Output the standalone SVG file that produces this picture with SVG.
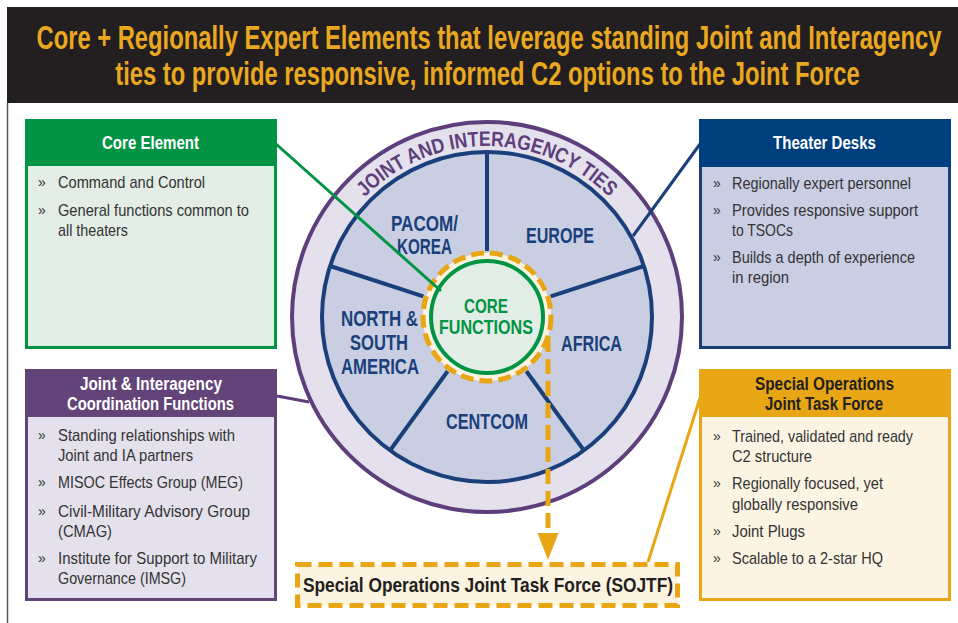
<svg xmlns="http://www.w3.org/2000/svg" width="958" height="623" viewBox="0 0 958 623">
<style>
text{font-family:"Liberation Sans",Arial,sans-serif}
.title{font-size:33px;font-weight:bold;fill:#e9a81f}
.hw{font-size:18px;font-weight:bold;fill:#ffffff}
.hd{font-size:18px;font-weight:bold;fill:#231f20}
.body{font-size:17px;fill:#333333}
.bul{font-size:14px;fill:#333333}
.reg{font-size:21.5px;font-weight:bold;fill:#1a3f7a}
.core{font-size:19.5px;font-weight:bold;fill:#009444}
.arc{font-size:21px;font-weight:bold;fill:#5e3f7c}
.spoke{stroke:#1a3f7a;stroke-width:4;fill:none}
.conn{stroke-width:3;fill:none}
</style>
<defs>
<path id="arcPath" d="M 316 317 A 171 171 0 0 1 658 317"/>
</defs>

<g id="header">
<rect x="7" y="7" width="951" height="96" fill="#231f20"/>
<g transform="translate(489,0) scale(0.72,1)">
<text class="title" x="0" y="49" text-anchor="middle">Core + Regionally Expert Elements that leverage standing Joint and Interagency</text>
</g>
<g transform="translate(487.5,0) scale(0.72,1)">
<text class="title" x="0" y="85" text-anchor="middle">ties to provide responsive, informed C2 options to the Joint Force</text>
</g>
</g>
<line x1="7.5" y1="103" x2="7.5" y2="623" stroke="#555555" stroke-width="1.5"/>

<g id="wheel">
<circle cx="487" cy="317" r="195" fill="#e4e1ec" stroke="#5e3f7c" stroke-width="4"/>
<circle cx="487" cy="317" r="165" fill="#c9cee3" stroke="#1a3f7a" stroke-width="4"/>
<text class="arc"><textPath href="#arcPath" startOffset="50%" text-anchor="middle" textLength="272" lengthAdjust="spacingAndGlyphs">JOINT AND INTERAGENCY TIES</textPath></text>
<line class="spoke" x1="487" y1="251" x2="487" y2="153"/>
<line class="spoke" x1="550.7" y1="296.3" x2="643.9" y2="266"/>
<line class="spoke" x1="526.4" y1="371.2" x2="584" y2="450.5"/>
<line class="spoke" x1="447.6" y1="371.2" x2="390" y2="450.5"/>
<line class="spoke" x1="423.3" y1="296.3" x2="330.1" y2="266"/>
<text class="reg" x="424.5" y="231" text-anchor="middle" textLength="67" lengthAdjust="spacingAndGlyphs">PACOM/</text>
<text class="reg" x="424.5" y="254" text-anchor="middle" textLength="55" lengthAdjust="spacingAndGlyphs">KOREA</text>
<text class="reg" x="560" y="243" text-anchor="middle" textLength="68" lengthAdjust="spacingAndGlyphs">EUROPE</text>
<text class="reg" x="379.5" y="326" text-anchor="middle" textLength="77" lengthAdjust="spacingAndGlyphs">NORTH &amp;</text>
<text class="reg" x="379" y="350" text-anchor="middle" textLength="58" lengthAdjust="spacingAndGlyphs">SOUTH</text>
<text class="reg" x="380" y="374" text-anchor="middle" textLength="78" lengthAdjust="spacingAndGlyphs">AMERICA</text>
<text class="reg" x="591.5" y="351" text-anchor="middle" textLength="61" lengthAdjust="spacingAndGlyphs">AFRICA</text>
<text class="reg" x="487" y="429" text-anchor="middle" textLength="82" lengthAdjust="spacingAndGlyphs">CENTCOM</text>
</g>

<g id="core-functions">
<circle cx="487" cy="317" r="64" fill="#fcf3e1" stroke="#e8a514" stroke-width="5" stroke-dasharray="13 6"/>
<circle cx="487" cy="317" r="56" fill="#e2ede5" stroke="#009444" stroke-width="4"/>
<text class="core" x="486" y="313" text-anchor="middle" textLength="44" lengthAdjust="spacingAndGlyphs">CORE</text>
<text class="core" x="486" y="334" text-anchor="middle" textLength="94" lengthAdjust="spacingAndGlyphs">FUNCTIONS</text>
</g>

<g id="connectors">
<line class="conn" x1="276" y1="144" x2="441" y2="291" stroke="#009444"/>
<line class="conn" x1="700" y1="144" x2="633" y2="236" stroke="#1a3f7a"/>
<line class="conn" x1="277" y1="396" x2="309" y2="402" stroke="#5e3f7c"/>
<line class="conn" x1="700" y1="398" x2="648" y2="562" stroke="#e8a514"/>
<line x1="548" y1="337" x2="548" y2="536" stroke="#e8a514" stroke-width="5" stroke-dasharray="15 7"/>
<polygon points="537.5,533 558.5,533 548,560" fill="#e8a514"/>
</g>

<g id="core-element">
<rect x="26.5" y="120.5" width="249" height="227" fill="#e2ede5" stroke="#009444" stroke-width="3"/>
<rect x="25" y="119" width="252" height="47" fill="#009444"/>
<text class="hw" x="150.5" y="149" text-anchor="middle" textLength="97" lengthAdjust="spacingAndGlyphs">Core Element</text>
<text class="bul" x="38" y="187">»</text>
<text class="body" x="58" y="188" textLength="147" lengthAdjust="spacingAndGlyphs">Command and Control</text>
<text class="bul" x="38" y="215">»</text>
<text class="body" x="58" y="216" textLength="191" lengthAdjust="spacingAndGlyphs">General functions common to</text>
<text class="body" x="58" y="236" textLength="70" lengthAdjust="spacingAndGlyphs">all theaters</text>
</g>

<g id="theater-desks">
<rect x="700.5" y="120.5" width="249" height="227" fill="#c9cee3" stroke="#1a3f7a" stroke-width="3"/>
<rect x="699" y="119" width="252" height="48" fill="#003f7d"/>
<text class="hw" x="824.5" y="149" text-anchor="middle" textLength="103" lengthAdjust="spacingAndGlyphs">Theater Desks</text>
<text class="bul" x="713" y="188">»</text>
<text class="body" x="732" y="189" textLength="179" lengthAdjust="spacingAndGlyphs">Regionally expert personnel</text>
<text class="bul" x="713" y="215">»</text>
<text class="body" x="732" y="216" textLength="186" lengthAdjust="spacingAndGlyphs">Provides responsive support</text>
<text class="body" x="732" y="236" textLength="61" lengthAdjust="spacingAndGlyphs">to TSOCs</text>
<text class="bul" x="713" y="262">»</text>
<text class="body" x="732" y="263" textLength="183" lengthAdjust="spacingAndGlyphs">Builds a depth of experience</text>
<text class="body" x="732" y="283" textLength="57" lengthAdjust="spacingAndGlyphs">in region</text>
</g>

<g id="joint-interagency">
<rect x="26.5" y="370.5" width="249" height="229" fill="#e4e1ec" stroke="#634478" stroke-width="3"/>
<rect x="25" y="369" width="252" height="48" fill="#634478"/>
<text class="hw" x="151" y="390" text-anchor="middle" textLength="142" lengthAdjust="spacingAndGlyphs">Joint &amp; Interagency</text>
<text class="hw" x="150.5" y="410" text-anchor="middle" textLength="167" lengthAdjust="spacingAndGlyphs">Coordination Functions</text>
<text class="bul" x="38" y="440">»</text>
<text class="body" x="58" y="441" textLength="177" lengthAdjust="spacingAndGlyphs">Standing relationships with</text>
<text class="body" x="58" y="461" textLength="135" lengthAdjust="spacingAndGlyphs">Joint and IA partners</text>
<text class="bul" x="38" y="487">»</text>
<text class="body" x="58" y="488" textLength="185" lengthAdjust="spacingAndGlyphs">MISOC Effects Group (MEG)</text>
<text class="bul" x="38" y="516">»</text>
<text class="body" x="58" y="517" textLength="192" lengthAdjust="spacingAndGlyphs">Civil-Military Advisory Group</text>
<text class="body" x="58" y="537" textLength="54" lengthAdjust="spacingAndGlyphs">(CMAG)</text>
<text class="bul" x="38" y="563">»</text>
<text class="body" x="58" y="564" textLength="199" lengthAdjust="spacingAndGlyphs">Institute for Support to Military</text>
<text class="body" x="58" y="584" textLength="128" lengthAdjust="spacingAndGlyphs">Governance (IMSG)</text>
</g>

<g id="sojtf-box">
<rect x="700.5" y="370.5" width="249" height="229" fill="#fcf4e3" stroke="#e8a514" stroke-width="3"/>
<rect x="699" y="369" width="252" height="48" fill="#e8a514"/>
<text class="hd" x="824.5" y="390" text-anchor="middle" textLength="139" lengthAdjust="spacingAndGlyphs">Special Operations</text>
<text class="hd" x="824" y="410" text-anchor="middle" textLength="118" lengthAdjust="spacingAndGlyphs">Joint Task Force</text>
<text class="bul" x="713" y="441">»</text>
<text class="body" x="732" y="442" textLength="181" lengthAdjust="spacingAndGlyphs">Trained, validated and ready</text>
<text class="body" x="732" y="462" textLength="80" lengthAdjust="spacingAndGlyphs">C2 structure</text>
<text class="bul" x="713" y="488">»</text>
<text class="body" x="732" y="489" textLength="151" lengthAdjust="spacingAndGlyphs">Regionally focused, yet</text>
<text class="body" x="732" y="510" textLength="126" lengthAdjust="spacingAndGlyphs">globally responsive</text>
<text class="bul" x="713" y="536">»</text>
<text class="body" x="732" y="537" textLength="73" lengthAdjust="spacingAndGlyphs">Joint Plugs</text>
<text class="bul" x="713" y="563">»</text>
<text class="body" x="732" y="564" textLength="151" lengthAdjust="spacingAndGlyphs">Scalable to a 2-star HQ</text>
</g>

<g id="sojtf-target">
<rect x="297.5" y="564.5" width="380" height="41" fill="#fcf3e1" stroke="#e8a514" stroke-width="5" stroke-dasharray="14 7"/>
<text x="488" y="592" text-anchor="middle" font-size="20.5" font-weight="bold" fill="#231f20" textLength="370" lengthAdjust="spacingAndGlyphs">Special Operations Joint Task Force (SOJTF)</text>
</g>
</svg>
